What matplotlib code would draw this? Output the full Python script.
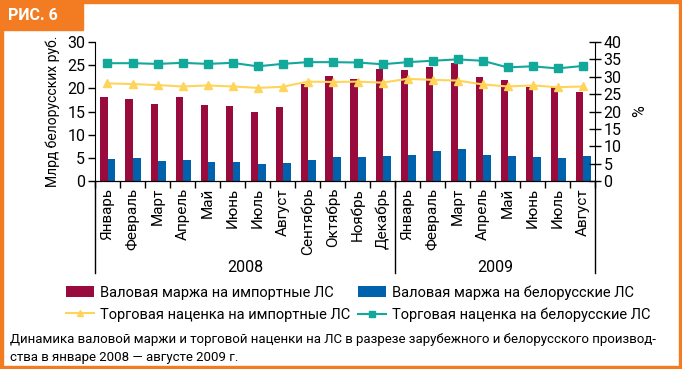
import matplotlib
matplotlib.use("Agg")
import matplotlib.pyplot as plt
from matplotlib.lines import Line2D
from matplotlib.patches import Rectangle
import numpy as np

plt.rcParams['font.family'] = ['Roboto', 'DejaVu Sans']

# Data
months = ["Январь", "Февраль", "Март", "Апрель", "Май", "Июнь", "Июль", "Август",
          "Сентябрь", "Октябрь", "Ноябрь", "Декабрь",
          "Январь", "Февраль", "Март", "Апрель", "Май", "Июнь", "Июль", "Август"]
years = ["2008", "2009"]
margin_import = [18.2, 17.8, 16.7, 18.2, 16.5, 16.1, 14.8, 15.9, 21.0, 22.6,
                 22.0, 24.1, 23.9, 24.5, 25.4, 22.4, 21.8, 20.3, 20.3, 19.2]
margin_belarus = [4.7, 5.0, 4.3, 4.5, 4.1, 4.1, 3.7, 3.9, 4.5, 5.2,
                  5.2, 5.4, 5.6, 6.5, 6.9, 5.6, 5.4, 5.2, 5.0, 5.4]
markup_import = [28.1, 27.9, 27.6, 27.2, 27.5, 27.2, 26.8, 27.1, 28.6, 28.5,
                 28.6, 28.3, 29.4, 29.1, 28.9, 27.8, 27.2, 27.5, 27.0, 27.2]
markup_belarus = [33.9, 33.9, 33.7, 34.0, 33.7, 34.0, 33.0, 33.7, 34.2, 34.2,
                  34.1, 33.6, 34.2, 34.6, 35.0, 34.6, 32.7, 33.0, 32.4, 33.1]

c_red = "#990a3d"
c_blue = "#0061ad"
c_yellow = "#ffd45a"
c_teal = "#12a89a"
c_orange = "#f37c22"

W, H = 682, 369
fig = plt.figure(figsize=(W / 100, H / 100), dpi=100)

# orange frame and header box
fig.patches.append(Rectangle((0, 1 - 3 / H), 1, 3 / H, transform=fig.transFigure, color=c_orange))
fig.patches.append(Rectangle((0, 0), 3 / W, 1, transform=fig.transFigure, color=c_orange))
fig.patches.append(Rectangle((1 - 3 / W, 0), 3 / W, 1, transform=fig.transFigure, color=c_orange))
fig.patches.append(Rectangle((0, 0), 1, 3 / H, transform=fig.transFigure, color=c_orange))
fig.patches.append(Rectangle((0, 1 - 30 / H), 83 / W, 30 / H, transform=fig.transFigure, color=c_orange))
fig.text(8 / W, 1 - 16 / H, "РИС. 6", color="white", fontsize=11.5, fontweight="bold",
         va="center", ha="left")

ax = fig.add_axes([95 / W, 1 - 181 / H, 500 / W, 139 / H])
x = np.arange(len(months))
bw = 0.3
ax.bar(x - 0.13, margin_import, bw, color=c_red, label="Валовая маржа на импортные ЛС")
ax.bar(x + 0.17, margin_belarus, bw, color=c_blue, label="Валовая маржа на белорусские ЛС")
ax.set_xlim(-0.5, len(months) - 0.5)
ax.set_ylim(0, 30)
ax.set_yticks(range(0, 31, 5))
ax.set_xticks(np.arange(-0.5, len(months), 1.0))
ax.set_xticklabels([])
ax.tick_params(axis="x", length=5, direction="out", width=1)
ax.tick_params(axis="y", length=5, direction="out", width=1, labelsize=11.5, pad=2)
for s in ["top", "right"]:
    ax.spines[s].set_visible(False)
ax.set_ylabel("Млрд белорусских руб.", fontsize=10, labelpad=5)

for i, m in enumerate(months):
    ax.text(i, -0.05, m, transform=ax.get_xaxis_transform(), rotation=90,
            ha="center", va="top", fontsize=11)

# separators below axis
for b in [-0.5, 11.5, len(months) - 0.5]:
    ax.plot([b, b], [0, -0.66], transform=ax.get_xaxis_transform(), color="black",
            lw=1, clip_on=False)
ax.text(5.5, -0.62, years[0], transform=ax.get_xaxis_transform(), ha="center", va="center", fontsize=11.5)
ax.text(15.5, -0.62, years[1], transform=ax.get_xaxis_transform(), ha="center", va="center", fontsize=11.5)

ax2 = ax.twinx()
ax2.plot(x, markup_import, color=c_yellow, lw=1.5, marker="^", ms=6,
         label="Торговая наценка на импортные ЛС")
ax2.plot(x, markup_belarus, color=c_teal, lw=1.5, marker="s", ms=6,
         label="Торговая наценка на белорусские ЛС")
ax2.set_ylim(0, 40)
ax2.set_yticks(range(0, 41, 5))
ax2.tick_params(axis="y", length=8, direction="inout", width=1, labelsize=11.5, pad=2)
for s in ["top", "left"]:
    ax2.spines[s].set_visible(False)
ax2.set_ylabel("%", fontsize=11.5, labelpad=8)

h1, l1 = ax.get_legend_handles_labels()
h2, l2 = ax2.get_legend_handles_labels()
handles = [h1[0], Line2D([], [], color=c_yellow, lw=1.5, marker="^", ms=5),
           h1[1], Line2D([], [], color=c_teal, lw=1.5, marker="s", ms=5)]
labels = [l1[0], l2[0], l1[1], l2[1]]
fig.legend(handles, labels, ncol=2, loc="upper left", bbox_to_anchor=(53 / W, 1 - 272 / H),
           frameon=False, fontsize=10.5, handlelength=1.9, handleheight=0.8,
           columnspacing=0.5, labelspacing=0.55, handletextpad=0.45)

fig.text(10 / W, 1 - 340 / H,
         "Динамика валовой маржи и торговой наценки на ЛС в разрезе зарубежного и белорусского производ-",
         fontsize=9.55, va="center", ha="left")
fig.text(10 / W, 1 - 357 / H, "ства в январе 2008 — августе 2009 г.",
         fontsize=9.55, va="center", ha="left")

fig.savefig("out.png", dpi=100)
